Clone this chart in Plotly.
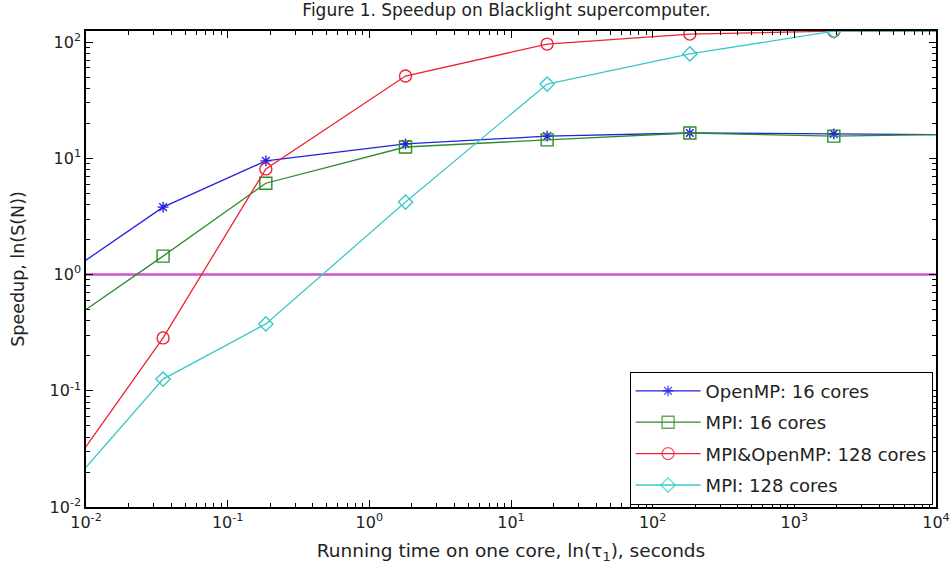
import plotly.graph_objects as go

# Running time on one core (seconds); end values sit on the axis limits
x_time = [0.01, 0.035, 0.186, 1.8, 18, 183, 1900, 10000]

openmp_16 = [1.33, 3.8, 9.5, 13.3, 15.5, 16.5, 16.2, 16.0]
mpi_16 = [0.50, 1.44, 6.1, 12.5, 14.4, 16.5, 15.5, 16.0]
mpi_openmp_128 = [0.033, 0.285, 8.1, 51, 96, 117, 124, 124]
mpi_128 = [0.022, 0.126, 0.376, 4.2, 43.5, 79, 124, 124]

reference_x = [0.01, 10000]
reference_y = [1, 1]

series_names = ["OpenMP: 16 cores", "MPI: 16 cores", "MPI&OpenMP: 128 cores", "MPI: 128 cores"]

x_tickvals = [0.01, 0.1, 1, 10, 100, 1000, 10000]
x_ticktext = ["10<sup>-2</sup>", "10<sup>-1</sup>", "10<sup>0</sup>", "10<sup>1</sup>",
              "10<sup>2</sup>", "10<sup>3</sup>", "10<sup>4</sup>"]
y_tickvals = [0.01, 0.1, 1, 10, 100]
y_ticktext = ["10<sup>-2</sup>", "10<sup>-1</sup>", "10<sup>0</sup>", "10<sup>1</sup>", "10<sup>2</sup>"]

x_minor = [m * d for d in [0.01, 0.1, 1, 10, 100, 1000] for m in range(2, 10)]
y_minor = [m * d for d in [0.01, 0.1, 1, 10, 100] for m in range(2, 10)]

styles = [
    dict(color="#2222e0", symbol="asterisk-open", size=9),
    dict(color="#2e8b2e", symbol="square-open", size=12),
    dict(color="#ee2233", symbol="circle-open", size=12),
    dict(color="#3cc8c8", symbol="diamond-open", size=11),
]

opac = [0, 1, 1, 1, 1, 1, 1, 0]

fig = go.Figure()
fig.add_trace(go.Scatter(x=reference_x, y=reference_y, mode="lines",
                         line=dict(color="#cc55cc", width=2.5), showlegend=False,
                         hoverinfo="skip"))
for i, (name, ys, st) in enumerate(zip(series_names,
                                       [openmp_16, mpi_16, mpi_openmp_128, mpi_128], styles)):
    fig.add_trace(go.Scatter(
        x=x_time, y=ys, mode="lines+markers", name=name, legendgroup=f"g{i}",
        line=dict(color=st["color"], width=1.3),
        marker=dict(symbol=st["symbol"], size=st["size"], color=st["color"],
                    opacity=opac, line=dict(color=st["color"], width=1.4)),
    ))

font = "DejaVu Sans, Verdana, sans-serif"
fig.update_layout(
    width=952, height=573,
    margin=dict(l=86, r=16, t=31, b=66),
    paper_bgcolor="white", plot_bgcolor="white",
    font=dict(family=font, size=16, color="#222222"),
    title=dict(text="Figure 1. Speedup on Blacklight supercomputer.",
               x=0.532, xanchor="center", yref="container", y=0.982, yanchor="middle",
               font=dict(size=17, color="#222222")),
    legend=dict(x=0.996, y=0.005, xanchor="right", yanchor="bottom",
                bgcolor="white", bordercolor="black", borderwidth=1,
                font=dict(size=18), tracegroupgap=5, itemwidth=65),
    showlegend=True,
)
common = dict(type="log", ticks="inside", ticklen=7, tickcolor="black", showline=True,
              linecolor="black", linewidth=1.5, mirror="ticks", showgrid=False,
              zeroline=False, automargin=False, tickfont=dict(size=16))
fig.update_xaxes(range=[-2, 4], tickvals=x_tickvals, ticktext=x_ticktext,
                 minor=dict(tickmode="array", tickvals=x_minor, ticks="inside",
                            ticklen=4, tickcolor="black", showgrid=False),
                 title=dict(text="Running time on one core, ln(τ<sub>1</sub>), seconds",
                            font=dict(size=18.5), standoff=13),
                 **common)
fig.update_yaxes(range=[-2, 2.095], tickvals=y_tickvals, ticktext=y_ticktext,
                 minor=dict(tickmode="array", tickvals=y_minor, ticks="inside",
                            ticklen=4, tickcolor="black", showgrid=False),
                 title=dict(text="Speedup, ln(S(N))", font=dict(size=17.5), standoff=20),
                 **common)

fig.write_html("out.html", config={"displayModeBar": False},
               post_script="document.body.style.margin='0px';document.body.style.overflow='hidden';")
